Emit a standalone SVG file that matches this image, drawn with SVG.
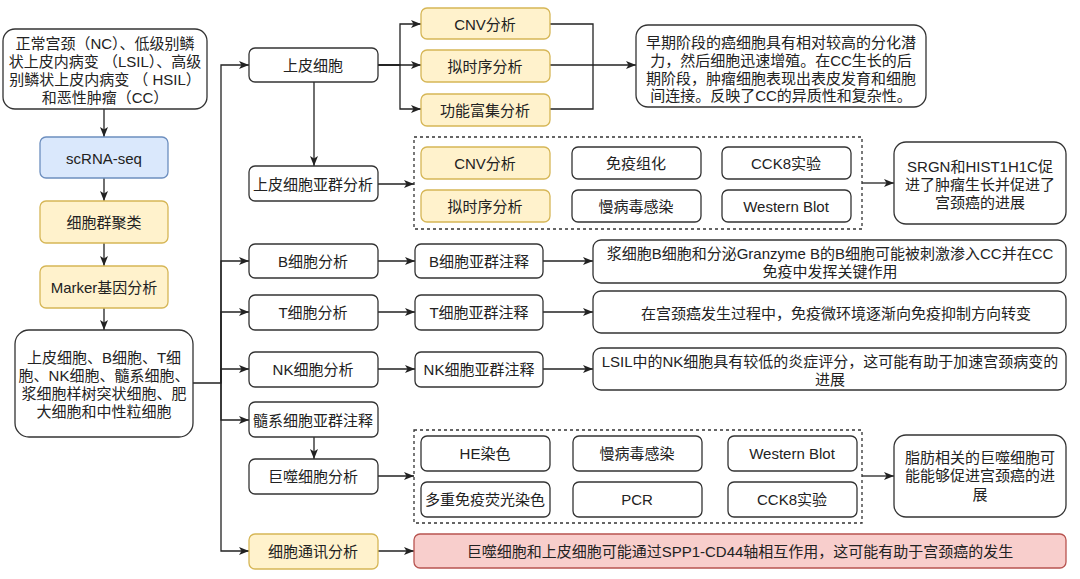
<svg xmlns="http://www.w3.org/2000/svg" width="1080" height="579" viewBox="0 0 1080 579">
<defs>
<style>
.b{fill:#fff;stroke:#333;stroke-width:1.3}
.y{fill:#fff2cc;stroke:#d6b656;stroke-width:1.3}
.bl{fill:#dae8fc;stroke:#6c8ebf;stroke-width:1.3}
.r{fill:#f8cecc;stroke:#b85450;stroke-width:1.3}
.d{fill:none;stroke:#333;stroke-width:1.3;stroke-dasharray:3 3}
text{font-family:"Liberation Sans","Noto Sans CJK SC",sans-serif;font-size:15px;fill:#222;text-anchor:middle;dominant-baseline:central}
#connectors path{fill:none;stroke:#222;stroke-width:1.3}
.a{marker-end:url(#arr)}
</style>
<marker id="arr" markerUnits="userSpaceOnUse" markerWidth="10" markerHeight="8" refX="10" refY="4" orient="auto">
<path d="M0,0 L10,4 L0,8 L2.5,4 z" fill="#222"/>
</marker>
</defs>
<rect width="1080" height="579" fill="#fff"/>

<g id="connectors">
<path class="a" d="M104,109 V137"/>
<path class="a" d="M104,178 V201"/>
<path class="a" d="M104,243 V266"/>
<path class="a" d="M104,308 V330"/>
<path class="a" d="M193,383 H221 V65 H249"/>
<path class="a" d="M221,383 V261 H249"/>
<path class="a" d="M221,383 V312 H249"/>
<path class="a" d="M221,383 V369 H249"/>
<path class="a" d="M221,383 V420 H249"/>
<path class="a" d="M221,383 V551 H249"/>
<path class="a" d="M378,65 H400 V24 H421"/>
<path class="a" d="M378,65 H421"/>
<path class="a" d="M378,65 H400 V109 H421"/>
<path d="M550,24 H593 V109 H550"/>
<path class="a" d="M550,65 H636"/>
<path class="a" d="M314,82 V166"/>
<path class="a" d="M378,184 H414"/>
<path class="a" d="M862,183 H894"/>
<path class="a" d="M378,261 H415"/>
<path class="a" d="M543,261 H593"/>
<path class="a" d="M378,312 H415"/>
<path class="a" d="M543,312 H593"/>
<path class="a" d="M378,369 H415"/>
<path class="a" d="M543,369 H593"/>
<path class="a" d="M314,437 V459"/>
<path class="a" d="M378,476 H414"/>
<path class="a" d="M862,476 H894"/>
<path class="a" d="M378,551 H414"/>
</g>

<g id="n-samples"><rect class="b" x="3" y="29" width="204" height="80" rx="12"/>
<text x="105" y="43">正常宫颈（NC）、低级别鳞</text>
<text x="105" y="61">状上皮内病变 （LSIL）、高级</text>
<text x="105" y="79">别鳞状上皮内病变 （ HSIL）</text>
<text x="105" y="97">和恶性肿瘤（CC）</text></g>
<g id="n-scrna"><rect class="bl" x="40" y="137" width="128" height="41" rx="6"/><text x="104" y="158">scRNA-seq</text></g>
<g id="n-cluster"><rect class="y" x="40" y="201" width="128" height="42" rx="6"/><text x="104" y="222">细胞群聚类</text></g>
<g id="n-marker"><rect class="y" x="40" y="266" width="128" height="42" rx="6"/><text x="104" y="287">Marker基因分析</text></g>
<g id="n-celltypes"><rect class="b" x="15" y="330" width="178" height="107" rx="14"/>
<text x="104" y="357">上皮细胞、B细胞、T细</text>
<text x="104" y="375">胞、NK细胞、髓系细胞、</text>
<text x="104" y="393">浆细胞样树突状细胞、肥</text>
<text x="104" y="411">大细胞和中性粒细胞</text></g>

<g id="n-epi"><rect class="b" x="249" y="48" width="129" height="34" rx="6"/><text x="313" y="65">上皮细胞</text></g>
<g id="n-cnv1"><rect class="y" x="421" y="8" width="129" height="31" rx="6"/><text x="485" y="24">CNV分析</text></g>
<g id="n-pt1"><rect class="y" x="421" y="50" width="129" height="32" rx="6"/><text x="485" y="66">拟时序分析</text></g>
<g id="n-func"><rect class="y" x="421" y="94" width="129" height="32" rx="6"/><text x="485" y="110">功能富集分析</text></g>
<g id="n-epi-res"><rect class="b" x="636" y="25" width="290" height="82" rx="12"/>
<text x="781" y="42">早期阶段的癌细胞具有相对较高的分化潜</text>
<text x="781" y="60">力，然后细胞迅速增殖。在CC生长的后</text>
<text x="781" y="78">期阶段，肿瘤细胞表现出表皮发育和细胞</text>
<text x="781" y="95">间连接。反映了CC的异质性和复杂性。</text></g>

<g id="n-episub"><rect class="b" x="249" y="166" width="129" height="35" rx="6"/><text x="313" y="184">上皮细胞亚群分析</text></g>
<g id="g-methods1"><rect class="d" x="414" y="137" width="448" height="92"/>
<rect class="y" x="421" y="147" width="129" height="32" rx="6"/><text x="485" y="163">CNV分析</text>
<rect class="y" x="421" y="190" width="129" height="32" rx="6"/><text x="485" y="206">拟时序分析</text>
<rect class="b" x="572" y="147" width="129" height="32" rx="6"/><text x="636" y="163">免疫组化</text>
<rect class="b" x="572" y="190" width="129" height="32" rx="6"/><text x="636" y="206">慢病毒感染</text>
<rect class="b" x="722" y="147" width="129" height="32" rx="6"/><text x="786" y="163">CCK8实验</text>
<rect class="b" x="722" y="190" width="129" height="32" rx="6"/><text x="786" y="206">Western Blot</text></g>
<g id="n-srgn"><rect class="b" x="894" y="142" width="172" height="82" rx="12"/>
<text x="980" y="166">SRGN和HIST1H1C促</text>
<text x="980" y="184">进了肿瘤生长并促进了</text>
<text x="980" y="202">宫颈癌的进展</text></g>

<g id="n-b"><rect class="b" x="249" y="244" width="129" height="34" rx="6"/><text x="313" y="261">B细胞分析</text></g>
<g id="n-bsub"><rect class="b" x="415" y="244" width="128" height="34" rx="6"/><text x="479" y="261">B细胞亚群注释</text></g>
<g id="n-bres"><rect class="b" x="593" y="240" width="473" height="43" rx="8"/>
<text x="830" y="253">浆细胞B细胞和分泌Granzyme B的B细胞可能被刺激渗入CC并在CC</text>
<text x="830" y="271">免疫中发挥关键作用</text></g>

<g id="n-t"><rect class="b" x="249" y="295" width="129" height="35" rx="6"/><text x="313" y="312">T细胞分析</text></g>
<g id="n-tsub"><rect class="b" x="415" y="295" width="128" height="35" rx="6"/><text x="479" y="312">T细胞亚群注释</text></g>
<g id="n-tres"><rect class="b" x="593" y="291" width="473" height="42" rx="8"/>
<text x="836" y="313">在宫颈癌发生过程中，免疫微环境逐渐向免疫抑制方向转变</text></g>

<g id="n-nk"><rect class="b" x="249" y="352" width="129" height="35" rx="6"/><text x="313" y="369">NK细胞分析</text></g>
<g id="n-nksub"><rect class="b" x="415" y="352" width="128" height="35" rx="6"/><text x="479" y="369">NK细胞亚群注释</text></g>
<g id="n-nkres"><rect class="b" x="593" y="348" width="473" height="42" rx="8"/>
<text x="830" y="361">LSIL中的NK细胞具有较低的炎症评分，这可能有助于加速宫颈病变的</text>
<text x="830" y="379">进展</text></g>

<g id="n-myeloid"><rect class="b" x="249" y="402" width="129" height="35" rx="6"/><text x="313" y="420">髓系细胞亚群注释</text></g>
<g id="n-macro"><rect class="b" x="249" y="459" width="129" height="35" rx="6"/><text x="313" y="476">巨噬细胞分析</text></g>
<g id="g-methods2"><rect class="d" x="414" y="430" width="448" height="93"/>
<rect class="b" x="421" y="436" width="129" height="35" rx="6"/><text x="485" y="453">HE染色</text>
<rect class="b" x="421" y="482" width="129" height="35" rx="6"/><text x="485" y="499">多重免疫荧光染色</text>
<rect class="b" x="573" y="436" width="129" height="35" rx="6"/><text x="637" y="453">慢病毒感染</text>
<rect class="b" x="573" y="482" width="129" height="35" rx="6"/><text x="637" y="499">PCR</text>
<rect class="b" x="728" y="436" width="129" height="35" rx="6"/><text x="792" y="453">Western Blot</text>
<rect class="b" x="728" y="482" width="129" height="35" rx="6"/><text x="792" y="499">CCK8实验</text></g>
<g id="n-fat"><rect class="b" x="894" y="435" width="172" height="82" rx="12"/>
<text x="980" y="457">脂肪相关的巨噬细胞可</text>
<text x="980" y="475">能能够促进宫颈癌的进</text>
<text x="980" y="494">展</text></g>

<g id="n-comm"><rect class="y" x="249" y="534" width="129" height="35" rx="6"/><text x="313" y="551">细胞通讯分析</text></g>
<g id="n-commres"><rect class="r" x="414" y="534" width="652" height="34" rx="6"/>
<text x="740" y="551">巨噬细胞和上皮细胞可能通过SPP1-CD44轴相互作用，这可能有助于宫颈癌的发生</text></g>
</svg>
